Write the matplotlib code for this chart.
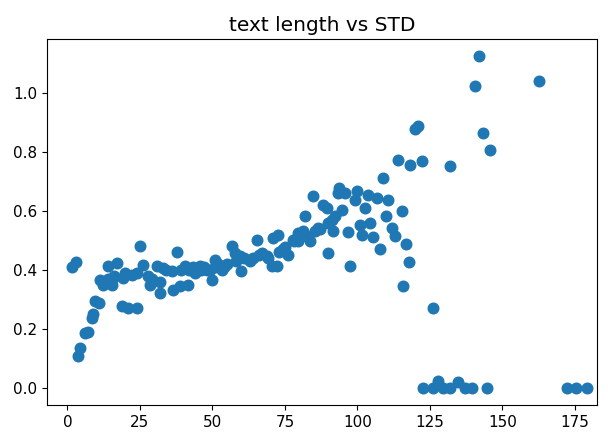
import matplotlib
matplotlib.use("Agg")
import matplotlib.pyplot as plt
import numpy as np

# text length (x) and STD (y)
text_len = [1.7, 3.0, 3.6, 4.3, 6.0, 7.2, 8.3, 8.9, 9.5, 11.0, 11.2, 12.3, 13.9, 14.0,
            15.2, 15.8, 16.0, 17.0, 18.7, 19.2, 20.0, 21.0, 22.1, 23.9, 24.0, 25.0,
            26.1, 27.9, 28.4, 29.0, 30.8, 31.9, 32.0, 33.0, 34.0, 35.9, 36.5, 37.7,
            38.8, 39.0, 40.5, 41.7, 42.0, 43.4, 44.0, 45.7, 46.0, 47.0, 48.0, 49.1,
            49.7, 50.9, 51.0, 52.0, 53.2, 54.0, 55.0, 56.6, 57.8, 58.0, 59.5, 60.0,
            61.0, 62.9, 63.0, 64.0, 65.2, 66.0, 67.0, 68.7, 69.0, 70.4, 71.0, 72.1,
            72.7, 73.0, 74.4, 75.0, 76.1, 77.9, 78.0, 79.6, 79.6, 80.0, 81.3, 81.9,
            82.0, 83.6, 84.8, 85.3, 86.5, 87.0, 88.2, 89.4, 89.9, 90.0, 91.1, 91.7,
            92.2, 93.4, 93.7, 94.6, 95.7, 96.8, 97.4, 99.1, 99.7, 100.9, 101.4, 102.6,
            103.7, 104.3, 105.4, 106.6, 107.8, 108.9, 110.0, 110.6, 111.8, 112.9,
            114.0, 115.2, 115.8, 116.7, 117.9, 118.1, 119.8, 121.0, 122.1, 122.5,
            126.1, 126.1, 127.9, 129.6, 131.9, 131.9, 134.8, 137.1, 139.4, 140.6,
            141.8, 143.4, 144.6, 145.7, 162.7, 172.1, 175.5, 179.0]
std = [0.41, 0.428, 0.11, 0.135, 0.188, 0.19, 0.239, 0.25, 0.297, 0.288, 0.368, 0.35,
       0.415, 0.37, 0.35, 0.374, 0.38, 0.425, 0.278, 0.374, 0.39, 0.273, 0.385, 0.273,
       0.39, 0.483, 0.419, 0.379, 0.351, 0.37, 0.413, 0.323, 0.36, 0.408, 0.40, 0.396,
       0.334, 0.46, 0.346, 0.40, 0.413, 0.351, 0.40, 0.41, 0.39, 0.413, 0.40, 0.41,
       0.40, 0.402, 0.368, 0.436, 0.41, 0.42, 0.40, 0.41, 0.42, 0.481, 0.458, 0.43,
       0.447, 0.396, 0.44, 0.436, 0.43, 0.44, 0.503, 0.45, 0.458, 0.447, 0.44, 0.413,
       0.509, 0.413, 0.52, 0.46, 0.47, 0.48, 0.453, 0.503, 0.50, 0.526, 0.498, 0.51,
       0.531, 0.582, 0.52, 0.498, 0.65, 0.531, 0.543, 0.54, 0.622, 0.61, 0.458, 0.56,
       0.571, 0.531, 0.582, 0.661, 0.678, 0.605, 0.661, 0.53, 0.415, 0.639, 0.667,
       0.554, 0.52, 0.61, 0.655, 0.56, 0.513, 0.644, 0.47, 0.712, 0.584, 0.639, 0.543,
       0.515, 0.774, 0.599, 0.346, 0.489, 0.427, 0.757, 0.877, 0.889, 0.768, 0.0,
       0.273, 0.0, 0.025, 0.0, 0.751, 0.0, 0.02, 0.0, 0.0, 1.024, 1.126, 0.864, 0.0,
       0.807, 1.04, 0.0, 0.0, 0.0]

fig = plt.figure(figsize=(6.08, 4.32), dpi=100)
ax = fig.add_axes([0.0773, 0.0625, 0.9046, 0.847])

ax.scatter(text_len, std, s=58, color="#1f77b4")
ax.set_title("text length vs STD", fontsize=14.5)
ax.tick_params(labelsize=11)
ax.set_xlim(-7.07, 182.6)
ax.set_ylim(-0.0563, 1.182)

fig.savefig("out.png", dpi=100)
